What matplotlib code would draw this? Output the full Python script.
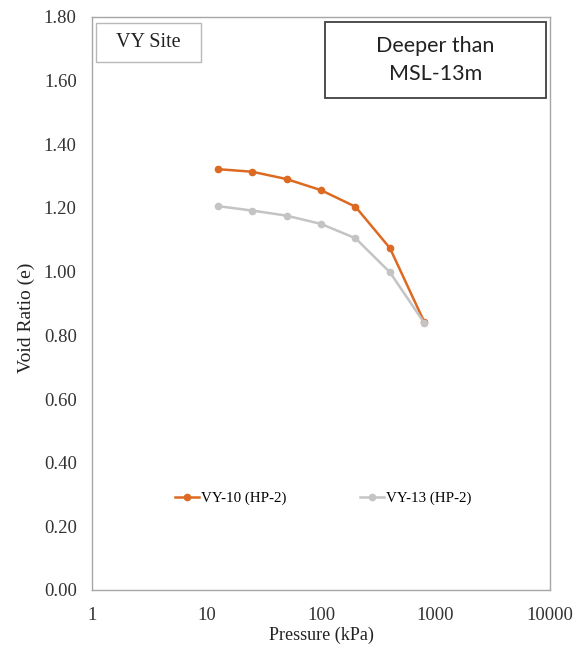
import matplotlib.pyplot as plt
from matplotlib.patches import Rectangle
from matplotlib.ticker import FixedLocator, NullLocator

# consolidation test results, e-log(p)
pressure = [12.5, 25, 50, 100, 200, 400, 800]
void_vy10 = [1.322, 1.314, 1.291, 1.256, 1.204, 1.074, 0.841]
void_vy13 = [1.206, 1.192, 1.176, 1.150, 1.105, 0.998, 0.838]

x_ticks = [1, 10, 100, 1000, 10000]
y_ticks = [0.0, 0.2, 0.4, 0.6, 0.8, 1.0, 1.2, 1.4, 1.6, 1.8]

serif = 'Liberation Serif'
orange = '#DC6A22'
grey = '#C4C4C4'

W, H = 587, 650
fig = plt.figure(figsize=(W / 100, H / 100), dpi=100)
ax = fig.add_axes([92 / W, 60 / H, 458 / W, 573 / H])

ax.plot(pressure, void_vy10, color=orange, lw=1.8, marker='o', ms=4.5,
        label='VY-10 (HP-2)')
ax.plot(pressure, void_vy13, color=grey, lw=1.8, marker='o', ms=4.5,
        label='VY-13 (HP-2)')

ax.set_xscale('log')
ax.set_xlim(1, 10000)
ax.set_ylim(0, 1.8)
ax.xaxis.set_major_locator(FixedLocator(x_ticks))
ax.xaxis.set_minor_locator(NullLocator())
ax.set_xticks(x_ticks, [str(v) for v in x_ticks])
ax.set_yticks(y_ticks, ['%.2f' % v for v in y_ticks])
ax.tick_params(length=0, labelsize=13.5, colors='#333333')
ax.tick_params(axis='y', pad=11)
ax.tick_params(axis='x', pad=12)
for lab in ax.get_xticklabels() + ax.get_yticklabels():
    lab.set_family(serif)

for s in ax.spines.values():
    s.set_color('#a6a6a6')
    s.set_linewidth(1.0)

ax.set_xlabel('Pressure (kPa)', family=serif, fontsize=13, labelpad=2,
              color='#222222')
ax.set_ylabel('Void Ratio (e)', family=serif, fontsize=14, color='#222222')
ax.yaxis.set_label_coords(-0.124, 0.475)

ax.legend(loc='center left', bbox_to_anchor=(75 / 458, 0.16), ncol=2,
          frameon=False, prop={'family': serif, 'size': 10.8},
          borderpad=0, columnspacing=4.9, handlelength=1.6,
          handletextpad=0.15)

# annotation boxes (pixel extents converted to figure fractions)
def box(x0, y0, x1, y1, ec, lw):
    fig.patches.append(Rectangle((x0 / W, 1 - y1 / H), (x1 - x0) / W,
                                 (y1 - y0) / H, transform=fig.transFigure,
                                 fc='white', ec=ec, lw=lw, zorder=3))
    return (x0 + x1) / 2 / W, 1 - (y0 + y1) / 2 / H

cx, cy = box(96, 23, 201, 62, '#b8b8b8', 1.0)
fig.text(cx, cy, 'VY Site', family=serif, fontsize=14.5, ha='center',
         va='center', color='#222222', zorder=4)
cx, cy = box(325, 22, 546, 98, '#404040', 1.3)
fig.text(cx, cy, 'Deeper than\nMSL-13m', family='Lato', fontsize=15.5,
         ha='center', va='center', linespacing=1.45, color='#222222',
         zorder=4)

fig.savefig('out.png', dpi=100)
